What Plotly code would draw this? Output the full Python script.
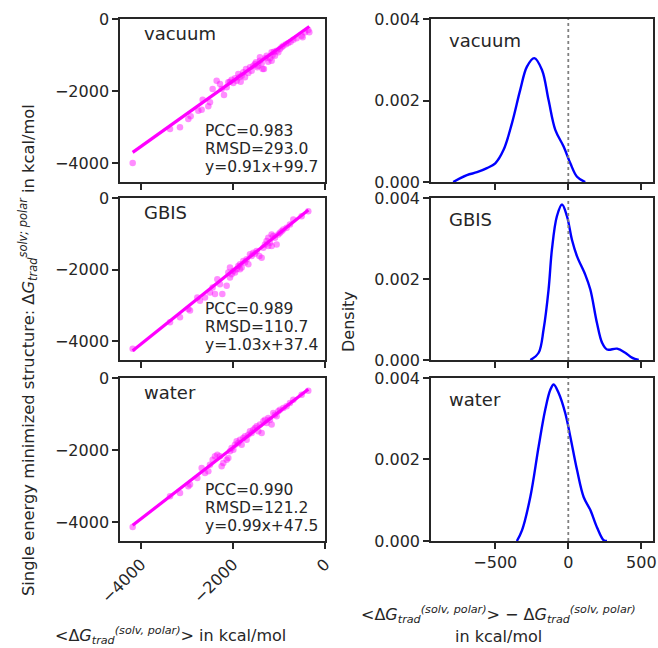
import plotly.graph_objects as go
from plotly.subplots import make_subplots

# ---------------- data ----------------
panels = ["vacuum", "GBIS", "water"]

vac_x = [-4182, -3370, -3153, -2972, -2921, -2754, -2682, -2660, -2537, -2501, -2443, -2356, -2283, -2247,
         -2196, -2138, -2102, -2066, -2030, -1993, -1957, -1921, -1885, -1863, -1834, -1812, -1776, -1740,
         -1718, -1667, -1631, -1595, -1559, -1522, -1501, -1472, -1450, -1414, -1377, -1356, -1327, -1298,
         -1269, -1233, -1196, -1160, -1138, -1109, -1088, -1051, -1015, -979, -943, -906, -848, -798, -747,
         -689, -617, -508, -435, -363, -341, -486, -1160, -1414]
vac_y = [-4000, -3056, -3010, -2778, -2704, -2547, -2519, -2241, -2426, -2315, -1945, -1713, -1806, -1945,
         -2111, -1898, -1759, -1741, -1685, -1778, -1648, -1713, -1528, -1620, -1741, -1574, -1482, -1620,
         -1389, -1500, -1343, -1435, -1296, -1250, -1204, -1343, -1296, -1158, -1232, -1389, -1389, -1093,
         -1019, -1185, -1093, -1158, -1000, -907, -1019, -880, -926, -833, -787, -741, -704, -667, -630,
         -574, -537, -463, -370, -306, -370, -509, -926, -1065]

gbis_x = [-4182, -3370, -3153, -2972, -2935, -2776, -2718, -2609, -2501, -2443, -2392, -2341, -2283, -2233,
          -2138, -2102, -2066, -2030, -1993, -1957, -1921, -1885, -1848, -1812, -1776, -1740, -1704, -1667,
          -1631, -1595, -1559, -1522, -1486, -1428, -1377, -1341, -1305, -1269, -1233, -1196, -1160, -1124,
          -1088, -1051, -1015, -979, -943, -906, -834, -762, -689, -508, -363, -2066, -1848, -1233, -1160]
gbis_y = [-4213, -3473, -3334, -3102, -3148, -2778, -2871, -2778, -2639, -2500, -2685, -2269, -2408, -2685,
          -2454, -2084, -2222, -2130, -2037, -2084, -1991, -1898, -1852, -1945, -1759, -1806, -1713, -1852,
          -1574, -1621, -1528, -1556, -1482, -1621, -1667, -1389, -1296, -1204, -1343, -1250, -1343, -1065,
          -1111, -1296, -1019, -972, -926, -880, -833, -741, -602, -509, -370, -1945, -1991, -1111, -1019]

wat_x = [-4182, -3370, -3153, -2972, -2935, -2776, -2682, -2609, -2537, -2501, -2443, -2392, -2341, -2283,
         -2247, -2211, -2138, -2102, -2066, -2030, -1993, -1957, -1921, -1885, -1848, -1812, -1776, -1740,
         -1704, -1667, -1631, -1595, -1559, -1522, -1486, -1450, -1414, -1377, -1341, -1305, -1269, -1233,
         -1196, -1160, -1124, -1088, -1051, -1015, -979, -906, -834, -762, -689, -508, -363]
wat_y = [-4139, -3287, -3195, -3010, -2963, -2778, -2500, -2639, -2593, -2408, -2269, -2176, -2130, -2176,
         -2454, -2361, -2269, -2222, -2037, -1945, -1991, -1852, -1759, -1806, -1713, -1852, -1667, -1621,
         -1713, -1574, -1482, -1528, -1435, -1389, -1343, -1482, -1296, -1528, -1204, -1158, -1250, -1111,
         -1158, -1296, -972, -1019, -1065, -926, -880, -833, -787, -695, -602, -463, -352]

pcc = [0.983, 0.989, 0.990]
rmsd = [293.0, 110.7, 121.2]
slope = [0.91, 1.03, 0.99]
intercept = [99.7, 37.4, 47.5]

# KDE curves of differences
kde_vac_x = [-788, -694, -625, -557, -500, -443, -386, -329, -283, -233, -180, -135, -89, -32, 14, 60, 116]
kde_vac_y = [0.0, 0.00017, 0.00024, 0.00034, 0.00046, 0.00079, 0.00144, 0.00226, 0.00283, 0.00304,
             0.00275, 0.00201, 0.00128, 0.00087, 0.00046, 0.00013, 0.0]
kde_gbis_x = [-260, -203, -169, -135, -112, -78, -43, -9, 25, 60, 116, 151, 196, 231, 265, 334, 390, 436, 482]
kde_gbis_y = [0.0, 0.00018, 0.00076, 0.00174, 0.00273, 0.00355, 0.00384, 0.00355, 0.00297, 0.00256,
              0.00211, 0.00174, 0.00092, 0.00043, 0.00026, 0.00028, 0.00018, 0.00006, 0.0]
kde_wat_x = [-352, -317, -260, -203, -158, -123, -100, -66, -21, 14, 60, 105, 151, 196, 242, 265]
kde_wat_y = [0.0, 0.00026, 0.00108, 0.00232, 0.00322, 0.00371, 0.00384, 0.00363, 0.00314, 0.00256,
             0.00174, 0.00108, 0.00076, 0.00034, 0.00002, 0.0]

left_ticks = [-4000, -2000, 0]
right_xticks = [-500, 0, 500]
right_yticks = [0, 0.002, 0.004]

# ---------------- figure ----------------
FONT = "DejaVu Sans"
TXT = "#262626"
fig = make_subplots(rows=3, cols=2)

scat = [(vac_x, vac_y), (gbis_x, gbis_y), (wat_x, wat_y)]
kdes = [(kde_vac_x, kde_vac_y), (kde_gbis_x, kde_gbis_y), (kde_wat_x, kde_wat_y)]

ydom = [(0.7191, 0.9707), (0.4444, 0.6944), (0.1651, 0.4167)]
ldom = (0.1824, 0.4939)
rdom = (0.655, 0.9924)

for i in range(3):
    r = i + 1
    xs, ys = scat[i]
    fig.add_trace(go.Scatter(x=xs, y=ys, mode="markers",
                             marker=dict(color="rgba(255,0,255,0.45)", size=6.5, line=dict(width=0)),
                             showlegend=False), row=r, col=1)
    x0, x1 = min(xs), max(xs)
    fig.add_trace(go.Scatter(x=[x0, x1], y=[slope[i] * x0 + intercept[i], slope[i] * x1 + intercept[i]],
                             mode="lines", line=dict(color="#ff00ff", width=3.2), showlegend=False),
                  row=r, col=1)
    kx, ky = kdes[i]
    fig.add_trace(go.Scatter(x=kx, y=ky, mode="lines", line=dict(color="#0000ff", width=2.4, shape="spline"),
                             showlegend=False), row=r, col=2)
    fig.add_trace(go.Scatter(x=[0, 0], y=[0, 0.004], mode="lines",
                             line=dict(color="#808080", width=1.8, dash="dot"), showlegend=False),
                  row=r, col=2)

axcommon = dict(showgrid=False, zeroline=False, showline=True, mirror=True, linecolor=TXT, linewidth=1.5,
                ticks="outside", ticklen=6, tickwidth=1.5, tickcolor=TXT, automargin=False,
                tickfont=dict(family=FONT, size=16, color=TXT))

for i in range(3):
    lx = 2 * i + 1
    rx = 2 * i + 2
    sfx = lambda n: "" if n == 1 else str(n)
    fig.layout["xaxis" + sfx(lx)].update(**axcommon, domain=ldom, range=[-4457, 0], tickvals=left_ticks,
                                         showticklabels=(i == 2), tickangle=-45)
    fig.layout["yaxis" + sfx(lx)].update(**axcommon, domain=ydom[i], range=[-4530, 0], tickvals=left_ticks)
    fig.layout["xaxis" + sfx(rx)].update(**axcommon, domain=rdom, range=[-940, 580], tickvals=right_xticks,
                                         showticklabels=(i == 2))
    fig.layout["yaxis" + sfx(rx)].update(**axcommon, domain=ydom[i], range=[0, 0.004], tickvals=right_yticks,
                                         tickformat=".3f")

    ax_l = "x" + sfx(lx)
    ay_l = "y" + sfx(lx)
    ax_r = "x" + sfx(rx)
    ay_r = "y" + sfx(rx)
    fig.add_annotation(text=panels[i], xref=ax_l + " domain", yref=ay_l + " domain", x=0.107, y=0.908,
                       xanchor="left", yanchor="middle", showarrow=False,
                       font=dict(family=FONT, size=18, color=TXT))
    fig.add_annotation(text=panels[i], xref=ax_r + " domain", yref=ay_r + " domain", x=0.072, y=0.868,
                       xanchor="left", yanchor="middle", showarrow=False,
                       font=dict(family=FONT, size=18, color=TXT))
    lines = ["PCC=%.3f" % pcc[i], "RMSD=%.1f" % rmsd[i], "y=%.2fx+%.1f" % (slope[i], intercept[i])]
    for j, (t, yy) in enumerate(zip(lines, [0.315, 0.205, 0.095])):
        fig.add_annotation(text=t, xref=ax_l + " domain", yref=ay_l + " domain", x=0.405, y=yy,
                           xanchor="left", yanchor="middle", showarrow=False,
                           font=dict(family=FONT, size=15.5, color=TXT))

G = "Δ<i>G</i><sub><i>trad</i></sub><sup><i>(solv, polar)</i></sup>"
fig.add_annotation(text="Single energy minimized structure: Δ<i>G</i><sub><i>trad</i></sub>"
                        "<sup><i>solv; polar</i></sup> in kcal/mol",
                   xref="paper", yref="paper", x=28 / 658, y=1 - 350 / 648, textangle=-90,
                   xanchor="center", yanchor="middle", showarrow=False,
                   font=dict(family=FONT, size=16.3, color=TXT))
fig.add_annotation(text="Density", xref="paper", yref="paper", x=348 / 658, y=1 - 322 / 648, textangle=-90,
                   xanchor="center", yanchor="middle", showarrow=False,
                   font=dict(family=FONT, size=16, color=TXT))
fig.add_annotation(text="<" + G + "> in kcal/mol", xref="paper", yref="paper", x=170 / 658, y=1 - 635 / 648,
                   xanchor="center", yanchor="middle", showarrow=False,
                   font=dict(family=FONT, size=16, color=TXT))
fig.add_annotation(text="<" + G + "> − " + G, xref="paper", yref="paper", x=498 / 658, y=1 - 614 / 648,
                   xanchor="center", yanchor="middle", showarrow=False,
                   font=dict(family=FONT, size=16, color=TXT))
fig.add_annotation(text="in kcal/mol", xref="paper", yref="paper", x=498 / 658, y=1 - 636 / 648,
                   xanchor="center", yanchor="middle", showarrow=False,
                   font=dict(family=FONT, size=16, color=TXT))

fig.update_layout(width=658, height=648, margin=dict(l=0, r=0, t=0, b=0),
                  paper_bgcolor="white", plot_bgcolor="white", showlegend=False,
                  font=dict(family=FONT, color=TXT))

fig.write_html("out.html")
